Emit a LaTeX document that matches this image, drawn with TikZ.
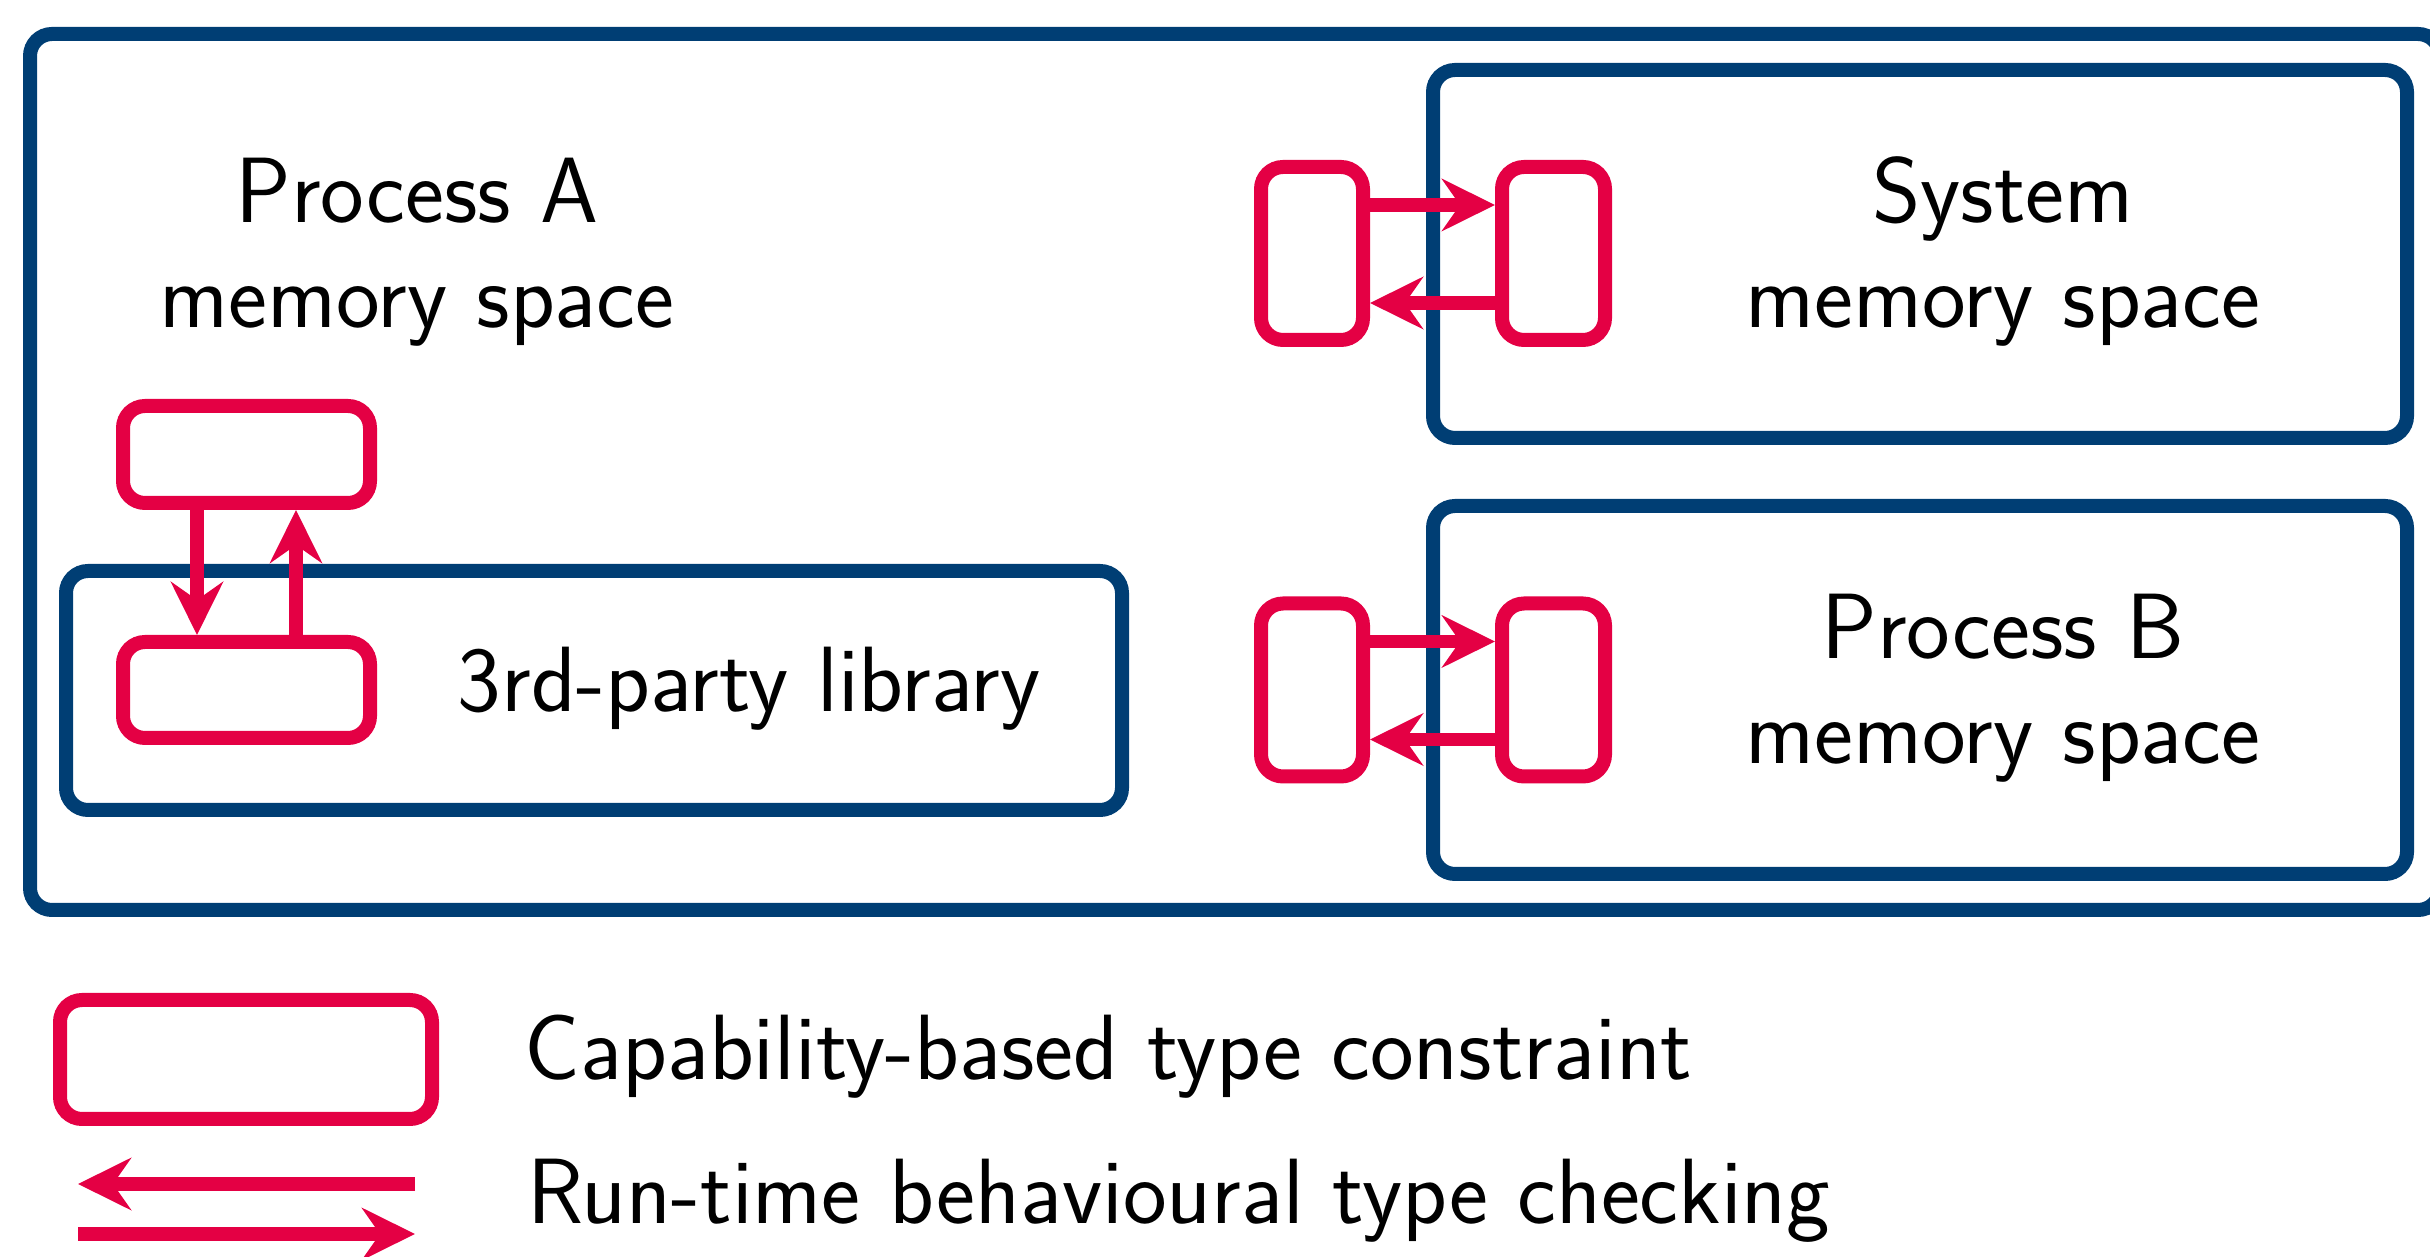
\documentclass[tikz,border=0pt]{standalone}
\usepackage{tikz,xcolor}
\usetikzlibrary{arrows.meta}

\definecolor{regionblue}{RGB}{0,62,116}
\definecolor{capred}{RGB}{228,0,68}

\tikzset{
    region/.style={draw=regionblue, line width=1.4mm, rounded corners=2.2mm, inner sep=0pt},
    capbox/.style={draw=capred, line width=1.4mm, rounded corners=2.2mm, inner sep=0pt},
    check/.style={draw=capred, line width=1.35mm, -{Stealth[length=5.3mm, width=5.2mm, inset=1.8mm]}},
    lbl/.style={font=\fontsize{26.4}{31}\selectfont\sffamily, inner sep=0pt, anchor=base}
}

\begin{document}
\begin{tikzpicture}
        \useasboundingbox (0,0) rectangle (24.30,-12.57);

        % memory spaces
        \node[region, minimum width=24.10cm, minimum height=8.76cm] (procA) at (12.35,-4.72) {};
        \node[region, minimum width=9.74cm, minimum height=3.68cm] (sys) at (19.20,-2.54) {};
        \node[region, minimum width=9.74cm, minimum height=3.68cm] (procB) at (19.20,-6.90) {};
        \node[region, minimum width=10.56cm, minimum height=2.39cm] (lib) at (5.94,-6.905) {};

        \node[lbl] (procAname) at (4.17,-2.23) {Process A};
        \node[lbl] (procAmem) at (4.17,-3.28) {memory space};
        \node[lbl] (sysname) at (20.03,-2.23) {System};
        \node[lbl] (sysmem) at (20.03,-3.28) {memory space};
        \node[lbl] (procBname) at (20.03,-6.59) {Process B};
        \node[lbl] (procBmem) at (20.03,-7.64) {memory space};
        \node[lbl] (libname) at (7.49,-7.12) {3rd-party library};

        % type constraints
        \node[capbox, minimum width=2.47cm, minimum height=0.97cm] (capA) at (2.465,-4.545) {};
        \node[capbox, minimum width=2.47cm, minimum height=0.96cm] (capLib) at (2.465,-6.90) {};
        \node[capbox, minimum width=1.02cm, minimum height=1.73cm] (capSysA) at (13.12,-2.535) {};
        \node[capbox, minimum width=1.03cm, minimum height=1.73cm] (capSys) at (15.535,-2.535) {};
        \node[capbox, minimum width=1.02cm, minimum height=1.73cm] (capBA) at (13.12,-6.90) {};
        \node[capbox, minimum width=1.03cm, minimum height=1.73cm] (capB) at (15.535,-6.90) {};

        % run-time checks
        \draw[check] ([xshift=-4.95mm]capA.south) -- ([xshift=-4.95mm]capLib.north);
        \draw[check] ([xshift=4.95mm]capLib.north) -- ([xshift=4.95mm]capA.south);
        \foreach \a/\b in {capSysA/capSys, capBA/capB} {
            \draw[check] ([yshift=4.85mm]\a.east) -- ([yshift=4.85mm]\b.west);
            \draw[check] ([yshift=-4.95mm]\b.west) -- ([yshift=-4.95mm]\a.east);
        }

        % legend
        \node[capbox, minimum width=3.72cm, minimum height=1.19cm] (legcap) at (2.46,-10.595) {};
        \node[lbl, anchor=base west] (legcaptext) at (5.24,-10.80) {Capability-based type constraint};
        \coordinate (legL1) at (0.78,-11.84);
        \coordinate (legR1) at (4.15,-11.84);
        \coordinate (legL2) at (0.78,-12.34);
        \coordinate (legR2) at (4.15,-12.34);
        \draw[check] (legR1) -- (legL1);
        \draw[check] (legL2) -- (legR2);
        \node[lbl, anchor=base west] (legchecktext) at (5.27,-12.24) {Run-time behavioural type checking};
\end{tikzpicture}
\end{document}
